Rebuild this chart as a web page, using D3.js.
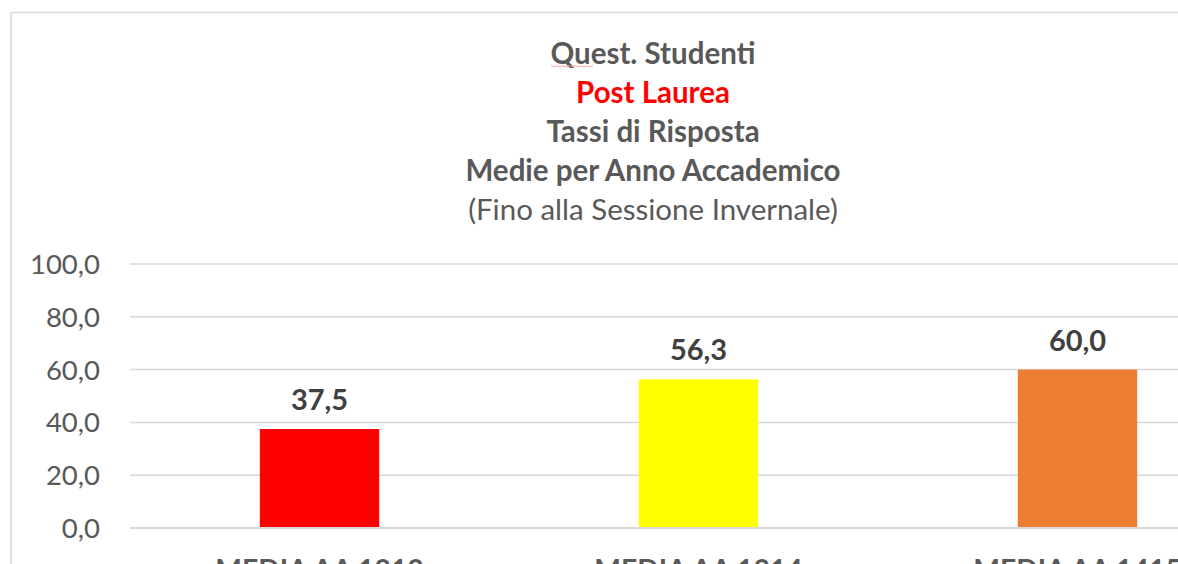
<!DOCTYPE html>
<html>
<head>
<meta charset="utf-8">
<script src="https://cdn.jsdelivr.net/npm/d3@7"></script>
<style>
  body { margin: 0; background: #fff; }
  svg { display: block; font-family: Lato, "Open Sans", sans-serif; }
</style>
</head>
<body>
<svg id="chart" width="1178" height="564"></svg>
<script>
// chart data
const categories = ["MEDIA AA 1213", "MEDIA AA 1314", "MEDIA AA 1415"];
const values = [37.5, 56.3, 60.0];
const barColours = ["#ff0000", "#ffff00", "#ed7d31"];
const yTicks = [0, 20, 40, 60, 80, 100];
const titleLines = [
    { text: "Quest. Studenti", colour: "#595959", weight: "bold" },
    { text: "Post Laurea", colour: "#ff0000", weight: "bold" },
    { text: "Tassi di Risposta", colour: "#595959", weight: "bold" },
    { text: "Medie per Anno Accademico", colour: "#595959", weight: "bold" },
    { text: "(Fino alla Sessione Invernale)", colour: "#595959", weight: "normal" }
];

const svg = d3.select("#chart");
const fmt = v => v.toFixed(1).replace(".", ",");

// chart frame (continues past the right edge of the picture)
svg.append("rect")
    .attr("x", 11).attr("y", 12.5)
    .attr("width", 1300).attr("height", 600)
    .attr("fill", "none")
    .attr("stroke", "#d9d9d9")
    .attr("stroke-width", 1.5);

// title block
svg.append("g").selectAll("text")
    .data(titleLines)
    .enter()
    .append("text")
    .attr("x", 653)
    .attr("y", (d, i) => 64 + i * 39)
    .attr("text-anchor", "middle")
    .attr("font-size", 29.5)
    .attr("font-weight", d => d.weight)
    .attr("fill", d => d.colour)
    .text(d => d.text);

// spell-check squiggle under "Quest"
svg.append("path")
    .attr("d", d3.range(0, 15).map(i => `${i ? "L" : "M"}${551 + i * 3},${i % 2 ? 67 : 65.5}`).join(""))
    .attr("fill", "none")
    .attr("stroke", "#f4a0a0")
    .attr("stroke-width", 1);

// scales
const x = d3.scaleBand().domain(categories).range([130, 130 + 3 * 379]).paddingInner(0.685).paddingOuter(0.3425);
const y = d3.scaleLinear().domain([0, 100]).range([528, 264]);

// gridlines
svg.append("g").selectAll("line")
    .data(yTicks)
    .enter()
    .append("line")
    .attr("x1", 130).attr("x2", 1178)
    .attr("y1", d => y(d)).attr("y2", d => y(d))
    .attr("stroke", "#d9d9d9")
    .attr("stroke-width", 1.5);

// y axis labels
svg.append("g").selectAll("text")
    .data(yTicks)
    .enter()
    .append("text")
    .attr("x", 100)
    .attr("y", d => y(d) + 10)
    .attr("text-anchor", "end")
    .attr("font-size", 27.5)
    .attr("fill", "#595959")
    .text(fmt);

// bars
svg.append("g").selectAll("rect")
    .data(values)
    .enter()
    .append("rect")
    .attr("x", (d, i) => x(categories[i]))
    .attr("width", x.bandwidth())
    .attr("y", d => y(d))
    .attr("height", d => y(0) - y(d))
    .attr("fill", (d, i) => barColours[i]);

// baseline redraw on top of bars
svg.append("line")
    .attr("x1", 130).attr("x2", 1178)
    .attr("y1", y(0)).attr("y2", y(0))
    .attr("stroke", "#d9d9d9")
    .attr("stroke-width", 2);

// value labels
svg.append("g").selectAll("text")
    .data(values)
    .enter()
    .append("text")
    .attr("x", (d, i) => x(categories[i]) + x.bandwidth() / 2)
    .attr("y", d => y(d) - 19)
    .attr("text-anchor", "middle")
    .attr("font-size", 29)
    .attr("font-weight", "bold")
    .attr("fill", "#404040")
    .text(fmt);

// category labels (cut off by the bottom edge, as in the original)
svg.append("g").selectAll("text")
    .data(categories)
    .enter()
    .append("text")
    .attr("x", d => x(d) + x.bandwidth() / 2)
    .attr("y", 580)
    .attr("text-anchor", "middle")
    .attr("font-size", 28.3)
    .attr("font-weight", "bold")
    .attr("fill", "#595959")
    .text(d => d);
</script>
</body>
</html>
